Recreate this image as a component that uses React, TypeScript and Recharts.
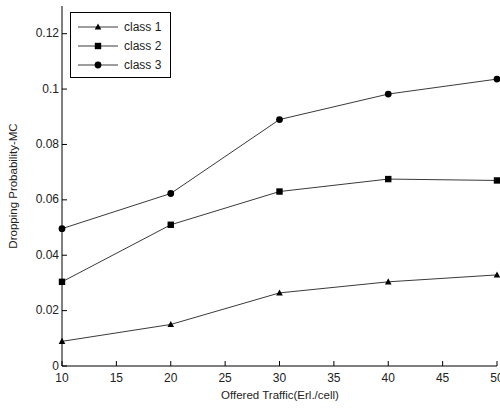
import React from "react";
import { LineChart, Line, XAxis, YAxis } from "recharts";

const traffic = [10, 20, 30, 40, 50];
const class1 = [0.0089, 0.015, 0.0264, 0.0304, 0.0329];
const class2 = [0.0304, 0.051, 0.063, 0.0675, 0.067];
const class3 = [0.0496, 0.0623, 0.089, 0.0982, 0.1036];
const xTicks = [10, 15, 20, 25, 30, 35, 40, 45, 50];
const yTicks = [0, 0.02, 0.04, 0.06, 0.08, 0.1, 0.12];
const seriesNames = ["class 1", "class 2", "class 3"];

const data = traffic.map((t, i) => ({ t, c1: class1[i], c2: class2[i], c3: class3[i] }));

const FONT = "'Liberation Sans', Arial, sans-serif";
const LINE = "#3a3a3a";

const Marker = ({ kind, cx, cy }: { kind: number; cx: number; cy: number }) => {
  if (kind === 0) {
    return <polygon points={`${cx},${cy - 3.5} ${cx - 3.3},${cy + 2.6} ${cx + 3.3},${cy + 2.6}`} fill="#000" />;
  }
  if (kind === 1) {
    return <rect x={cx - 3.2} y={cy - 3.2} width={6.4} height={6.4} fill="#000" />;
  }
  return <circle cx={cx} cy={cy} r={3.4} fill="#000" />;
};

const makeDot = (kind: number) => (props: any) => {
  const { cx, cy, index } = props;
  if (cx == null || cy == null) return <g key={index} />;
  return <Marker key={index} kind={kind} cx={cx} cy={cy} />;
};

const BottomTick = (props: any) => {
  const { x, y, payload } = props;
  const axisY = y - 3;
  return (
    <g>
      <line x1={x} x2={x} y1={axisY} y2={axisY - 5} stroke="#000" strokeWidth={1} />
      <text x={x} y={axisY + 6} dy="0.8em" textAnchor="middle" fontSize={12} fontFamily={FONT} fill="#222">
        {payload.value}
      </text>
    </g>
  );
};

const TopTick = (props: any) => {
  const { x, y } = props;
  return <line x1={x} x2={x} y1={y} y2={y + 5} stroke="#000" strokeWidth={1} />;
};

const LeftTick = (props: any) => {
  const { x, y, payload } = props;
  const axisX = x + 3;
  return (
    <g>
      <line x1={axisX} x2={axisX + 5} y1={y} y2={y} stroke="#000" strokeWidth={1} />
      <text x={axisX - 3} y={y} dy="0.3em" textAnchor="end" fontSize={12} fontFamily={FONT} fill="#222">
        {String(payload.value)}
      </text>
    </g>
  );
};

const RightTick = (props: any) => {
  const { x, y } = props;
  return <line x1={x} x2={x - 5} y1={y} y2={y} stroke="#000" strokeWidth={1} />;
};

const LegendBox = () => (
  <div
    style={{
      position: "absolute",
      left: 70,
      top: 12,
      border: "1px solid #000",
      background: "#fff",
      width: 101,
      height: 66,
      boxSizing: "border-box",
    }}
  >
    <svg width={99} height={64} style={{ position: "absolute", left: 0, top: 0 }}>
      {seriesNames.map((name, i) => {
        const cy = 14 + i * 19;
        return (
          <g key={name}>
            <line x1={7} x2={47} y1={cy} y2={cy} stroke={LINE} strokeWidth={1} />
            <Marker kind={i} cx={27} cy={cy} />
            <text x={53} y={cy} dy="0.35em" fontSize={12} fontFamily={FONT} fill="#222">
              {name}
            </text>
          </g>
        );
      })}
    </svg>
  </div>
);

export default function App() {
  return (
    <div style={{ position: "absolute", left: 0, top: 0, width: 500, height: 408, background: "#fff" }}>
      <LineChart width={500} height={408} data={data} margin={{ top: 6, right: 3, bottom: 0, left: 0 }}>
        <XAxis
          xAxisId="b"
          dataKey="t"
          type="number"
          domain={[10, 50]}
          ticks={xTicks}
          orientation="bottom"
          height={42}
          tickSize={0}
          tickMargin={3}
          tickLine={false}
          axisLine={{ stroke: "#000" }}
          tick={<BottomTick />}
          interval={0}
          label={{
            content: () => (
              <text x={280} y={399} textAnchor="middle" fontSize={11.5} fontFamily={FONT} fill="#222">
                Offered Traffic(Erl./cell)
              </text>
            ),
          }}
        />
        <XAxis
          xAxisId="t"
          dataKey="t"
          type="number"
          domain={[10, 50]}
          ticks={xTicks}
          orientation="top"
          height={0}
          tickSize={0}
          tickMargin={0}
          tickLine={false}
          axisLine={{ stroke: "#000" }}
          tick={<TopTick />}
          interval={0}
        />
        <YAxis
          yAxisId="l"
          type="number"
          domain={[0, 0.13]}
          ticks={yTicks}
          orientation="left"
          width={62}
          tickSize={0}
          tickMargin={3}
          tickLine={false}
          axisLine={{ stroke: "#000" }}
          tick={<LeftTick />}
          interval={0}
          label={{
            content: () => (
              <text
                x={17}
                y={186}
                transform="rotate(-90 17 186)"
                textAnchor="middle"
                fontSize={11.5}
                fontFamily={FONT}
                fill="#222"
              >
                Dropping Probability-MC
              </text>
            ),
          }}
        />
        <YAxis
          yAxisId="r"
          type="number"
          domain={[0, 0.13]}
          ticks={yTicks}
          orientation="right"
          width={0}
          tickSize={0}
          tickMargin={0}
          tickLine={false}
          axisLine={{ stroke: "#000" }}
          tick={<RightTick />}
          interval={0}
        />
        <Line xAxisId="b" yAxisId="l" dataKey="c1" name="class 1" stroke={LINE} strokeWidth={1} dot={makeDot(0)} isAnimationActive={false} />
        <Line xAxisId="b" yAxisId="l" dataKey="c2" name="class 2" stroke={LINE} strokeWidth={1} dot={makeDot(1)} isAnimationActive={false} />
        <Line xAxisId="b" yAxisId="l" dataKey="c3" name="class 3" stroke={LINE} strokeWidth={1} dot={makeDot(2)} isAnimationActive={false} />
      </LineChart>
      <LegendBox />
    </div>
  );
}
